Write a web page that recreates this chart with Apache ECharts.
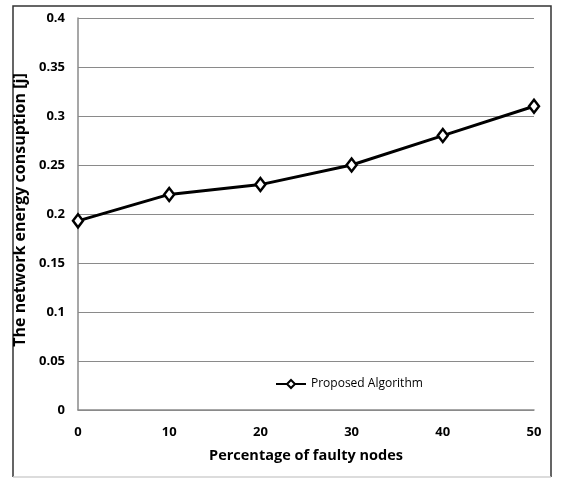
<!DOCTYPE html>
<html>
<head>
<meta charset="utf-8">
<script src="https://cdn.jsdelivr.net/npm/echarts@6/dist/echarts.min.js"></script>
<style>
  html, body { margin: 0; padding: 0; background: #fff; }
  #chart { width: 561px; height: 479px; }
</style>
</head>
<body>
<div id="chart"></div>
<script>
// faulty node percentages (x) and energy consumption (y)
const faultyPct = [0, 10, 20, 30, 40, 50]
const energy = [0.193, 0.22, 0.23, 0.25, 0.28, 0.31]
const seriesName = 'Proposed Algorithm'

const FONT = '"Open Sans", sans-serif'

const chart = echarts.init(document.getElementById('chart'))

const labelFont = {
  fontFamily: FONT,
  fontWeight: 'bold',
  fontSize: 13,
  color: '#000'
}

chart.setOption({
  animation: false,
  grid: {
    left: 78,
    right: 27,
    top: 18,
    bottom: 69
  },
  legend: {
    data: [seriesName],
    left: 270,
    top: 373,
    itemWidth: 30,
    itemHeight: 10,
    itemGap: 3,
    textStyle: {
      fontFamily: FONT,
      fontSize: 12,
      color: '#000'
    }
  },
  xAxis: {
    type: 'value',
    min: 0,
    max: 50,
    interval: 10,
    name: 'Percentage of faulty nodes',
    nameLocation: 'middle',
    nameGap: 38,
    nameTextStyle: {
      fontFamily: FONT,
      fontWeight: 'bold',
      fontSize: 14.5,
      color: '#000'
    },
    axisLine: { lineStyle: { color: '#8a8a8a', width: 1.5 } },
    axisTick: { show: false },
    splitLine: { show: false },
    axisLabel: Object.assign({ margin: 16 }, labelFont)
  },
  yAxis: {
    type: 'value',
    min: 0,
    max: 0.4,
    interval: 0.05,
    name: 'The network energy consuption [j]',
    nameLocation: 'middle',
    nameGap: 44,
    nameTextStyle: {
      fontFamily: FONT,
      fontWeight: 'bold',
      fontSize: 16,
      color: '#000',
      padding: [0, 0, 0, 8]
    },
    axisLine: { show: true, lineStyle: { color: '#8a8a8a', width: 1.5 } },
    axisTick: { show: false },
    splitLine: { lineStyle: { color: '#8a8a8a', width: 1 } },
    axisLabel: Object.assign({
      margin: 13,
      formatter: function (v) { return String(parseFloat(v.toFixed(2))) }
    }, labelFont)
  },
  series: [{
    name: seriesName,
    type: 'line',
    data: faultyPct.map((x, i) => [x, energy[i]]),
    symbol: 'diamond',
    symbolSize: [10, 13],
    lineStyle: { color: '#000', width: 3 },
    itemStyle: { color: '#fff', borderColor: '#000', borderWidth: 2.5 }
  }],
  graphic: [{
    type: 'polyline',
    shape: { points: [[13, 477], [13, 6], [551, 6], [551, 477]] },
    style: { fill: 'none', stroke: '#333', lineWidth: 1.5 },
    silent: true
  }, {
    type: 'line',
    shape: { x1: 13, y1: 477, x2: 551, y2: 477 },
    style: { stroke: '#d0d0d0', lineWidth: 1.5 },
    silent: true
  }]
})
</script>
</body>
</html>
